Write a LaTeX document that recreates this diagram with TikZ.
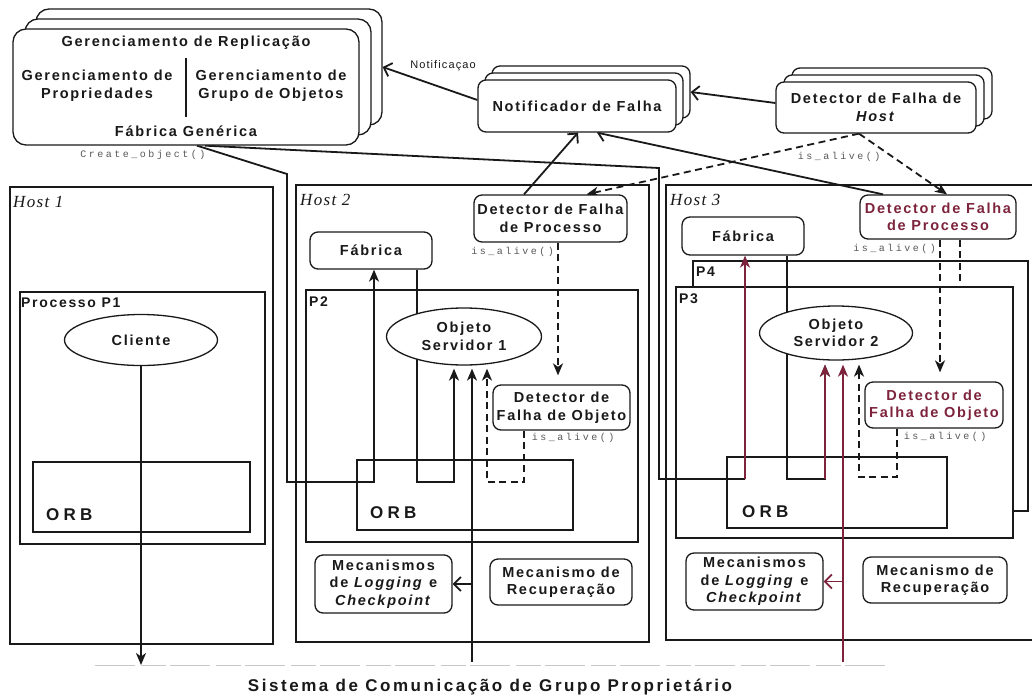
\documentclass[tikz,border=0pt]{standalone}
\usepackage{fontspec}
\setmainfont{Liberation Sans}
\newfontfamily\lblf[LetterSpace=12]{Liberation Sans}
\newfontfamily\orbf[LetterSpace=25]{Liberation Sans}
\newfontfamily\sysf[LetterSpace=15]{Liberation Sans}
\newfontfamily\hostf[LetterSpace=8]{Liberation Serif}
\newfontfamily\codef[LetterSpace=25]{Liberation Mono}
\newfontfamily\notf[LetterSpace=10]{Liberation Sans}
\usetikzlibrary{arrows.meta,shapes.geometric}
\pgfdeclarelayer{back}
\pgfsetlayers{back,main}
\definecolor{mar}{RGB}{125,35,60}
\definecolor{ink}{RGB}{25,25,25}
\begin{document}
\begin{tikzpicture}[x=1pt,y=-1pt,line join=round,
  lbl/.style={font=\lblf\bfseries\fontsize{14.5}{17.5}\selectfont, align=center, inner sep=0pt, text=ink},
  rbox/.style={lbl, draw=ink, line width=1.3pt, rounded corners=8pt, fill=white},
  ell/.style={lbl, ellipse, draw=ink, line width=1.3pt, fill=white},
  conn/.style={line width=1.8pt, draw=ink},
  dconn/.style={line width=1.8pt, draw=ink, dash pattern=on 7pt off 4.5pt},
  tipv/.style={-{Stealth[length=12pt,width=10pt,inset=3.5pt]}},
  tipb/.style={-{Straight Barb[length=7pt,width=14pt,line width=1.8pt]}},
  frame/.style={draw=ink, line width=1.3pt},
  code/.style={font=\codef\fontsize{10}{12}\selectfont, text=black!65, inner sep=0pt},
  hostlbl/.style={font=\hostf\itshape\fontsize{17}{20}\selectfont, inner sep=0pt, anchor=west, text=ink},
  plbl/.style={font=\lblf\bfseries\fontsize{14}{17}\selectfont, inner sep=0pt, anchor=west, text=ink},
  orb/.style={font=\orbf\bfseries\fontsize{17}{20}\selectfont, inner sep=0pt, anchor=west, text=ink},
]
\useasboundingbox (0,0) rectangle (1032,696);

% ---------- top stacks ----------
\node[rbox, rounded corners=13pt, minimum width=346pt, minimum height=116pt] (gr3) at (209,67) {};
\node[rbox, rounded corners=13pt, minimum width=346pt, minimum height=116pt] (gr2) at (198,77) {};
\node[rbox, rounded corners=13pt, minimum width=346pt, minimum height=116pt] (gr) at (186,87) {};
\node[lbl] (grt) at (186,43) {Gerenciamento de Replicação};
\node[lbl] (grl) at (97,86) {Gerenciamento de\\Propriedades};
\node[lbl] (grr) at (271,86) {Gerenciamento de\\Grupo de Objetos};
\node[lbl] (grf) at (186,131) {Fábrica Genérica};
\coordinate (dvt) at (186,58);
\coordinate (dvb) at (186,117);
\draw[line width=1.2pt, ink] (dvt) -- (dvb);

\node[rbox, minimum width=198pt, minimum height=52pt] (nf3) at (591,92) {};
\node[rbox, minimum width=198pt, minimum height=52pt] (nf2) at (584,99) {};
\node[rbox, minimum width=198pt, minimum height=52pt] (nf) at (577,106) {Notificador de Falha};

\node[rbox, minimum width=200pt, minimum height=51pt] (hd3) at (892,93.5) {};
\node[rbox, minimum width=200pt, minimum height=51pt] (hd2) at (884,100.5) {};
\node[rbox, minimum width=200pt, minimum height=51pt] (hd) at (876,107.5) {Detector de Falha de\\\textit{Host}};

\node[font=\notf\fontsize{11}{13}\selectfont, inner sep=0pt, text=ink] (notl) at (443,66) {Notificaçao};
\node[code] (co) at (143,155) {Create\_object()};
\node[code] (iah) at (839,157) {is\_alive()};

% ---------- host labels ----------
\node[hostlbl] (h1) at (13,202) {Host 1};
\node[hostlbl] (h2) at (300,200) {Host 2};
\node[hostlbl] (h3) at (670,200) {Host 3};

\node[plbl] (p1l) at (21,303) {Processo P1};
\node[orb] (orb1) at (46,515) {ORB};
\node[plbl] (p2l) at (309,302) {P2};
\node[orb] (orb2) at (370,513) {ORB};
\node[plbl] (p4l) at (696,272) {P4};
\node[plbl] (p3l) at (679,299) {P3};
\node[orb] (orb3) at (742,512) {ORB};

% ---------- Host 2 boxes ----------
\node[rbox, minimum width=153pt, minimum height=47pt] (dp2) at (550.5,218.5) {Detector de Falha\\de Processo};
\node[rbox, minimum width=122pt, minimum height=37pt] (fab2) at (371,250.5) {Fábrica};
\node[rbox, minimum width=137pt, minimum height=45pt] (do2) at (561.5,407.5) {Detector de\\Falha de Objeto};
\node[rbox, minimum width=137pt, minimum height=58pt] (mk2) at (383.5,584) {Mecanismos\\de \textit{Logging} e\\\textit{Checkpoint}};
\node[rbox, minimum width=142pt, minimum height=46pt] (rc2) at (561,582) {Mecanismo de\\Recuperação};
\node[code, anchor=east] (ia2) at (554,252) {is\_alive()};
\node[code] (ia2o) at (573,438) {is\_alive()};

% ---------- Host 3 boxes ----------
\node[rbox, minimum width=156pt, minimum height=44pt, text=mar] (dp3) at (938,217) {Detector de Falha\\de Processo};
\node[rbox, minimum width=122pt, minimum height=38pt] (fab3) at (743,236) {Fábrica};
\node[rbox, minimum width=138pt, minimum height=46pt, text=mar] (do3) at (934,405) {Detector de\\Falha de Objeto};
\node[rbox, minimum width=137pt, minimum height=57pt] (mk3) at (754.5,581.5) {Mecanismos\\de \textit{Logging} e\\\textit{Checkpoint}};
\node[rbox, minimum width=144pt, minimum height=46pt] (rc3) at (935,580) {Mecanismo de\\Recuperação};
\node[code, anchor=east] (ia3) at (936,249) {is\_alive()};
\node[code] (ia3o) at (945,437) {is\_alive()};

% ---------- ellipses ----------
\node[ell, minimum width=153pt, minimum height=51pt] (cli) at (141,340) {Cliente};
\node[ell, minimum width=155pt, minimum height=57pt] (os1) at (464,336.5) {Objeto\\Servidor 1};
\node[ell, minimum width=153pt, minimum height=54pt] (os2) at (836,333) {Objeto\\Servidor 2};

% ---------- bottom ----------
\node[font=\sysf\bfseries\fontsize{17}{20}\selectfont, inner sep=0pt, text=ink] (sys) at (490,687) {Sistema de Comunicação de Grupo Proprietário};

\coordinate (c1) at (141,665);
\coordinate (c2) at (472,662);
\coordinate (c3) at (843,662);
\coordinate (b3) at (745,479);
\coordinate (f2b) at (454,482);
\coordinate (f3b) at (825,479);
\coordinate (d2a) at (524,482);
\coordinate (d2b) at (487,482);
\coordinate (d3a) at (897,477);
\coordinate (d3b) at (859,477);
\coordinate (d3e) at (960,287);
\coordinate (gl) at (95,665);
\coordinate (gr0) at (890,665);

\begin{pgfonlayer}{back}
\fill[white] (0,0) rectangle (1032,696);
% frames
\draw[frame] (10,187) rectangle (273,644);
\draw[frame] (296,185) rectangle (649,642);
\draw[frame] (1032,185) -- (666,185) -- (666,640) -- (1032,640);
\draw[frame] (20,292) rectangle (265,544);
\draw[frame] (33,462) rectangle (250,532);
\draw[frame] (306,290) rectangle (638,542);
\draw[frame] (357,460) rectangle (573,530);
\draw[frame, fill=white] (693,261) rectangle (1028,511);
\draw[frame, fill=white] (676,287) rectangle (1013,538);
\draw[frame] (727,457) rectangle (947,528);
\draw[black!22, line width=0.7pt, dash pattern=on 40pt off 6pt on 25pt off 4pt] (gl) -- (gr0);

% top connectors
\draw[conn, tipb] ([yshift=6pt]nf.west) -- (gr3.east);
\draw[conn, tipb] ([yshift=4.5pt]hd.west) -- (nf3.east);
\draw[conn, tipb] ([xshift=-26.5pt]dp2.north) -- ([xshift=1pt]nf.south);
\draw[conn, tipb] ([xshift=-55pt]dp3.north) -- ([xshift=20pt]nf.south);
\draw[dconn, tipv] ([xshift=-17pt]hd.south) -- ([xshift=36pt]dp2.north);
\draw[dconn, tipv] ([xshift=-17pt]hd.south) -- ([xshift=9pt]dp3.north);

% create_object lines
\draw[conn, tipv] ([xshift=11pt]gr.south) -- (287,174) -- (287,482) -- (374,482) -- ([xshift=3pt]fab2.south);
\draw[conn] ([xshift=19pt]gr.south) -- (659,168) -- (659,479) -- (b3);
\draw[conn, draw=mar, tipv] (b3) -- ([xshift=2pt]fab3.south);

% Host 1
\draw[conn, tipv] (cli.south) -- (c1);

% Host 2
\draw[conn, tipv, shorten >=3pt] ([xshift=46pt]fab2.south) -- (417,482) -- (f2b) -- (f2b |- os1.south);
\draw[conn, tipv, shorten >=3pt] (c2) -- (c2 |- os1.south);
\draw[conn, tipb] (c2 |- mk2.east) -- (mk2.east);
\draw[dconn, tipv, shorten >=3pt] (do2.south -| d2a) -- (d2a) -- (d2b) -- (d2b |- os1.south);
\draw[dconn, tipv, shorten >=9pt] ([xshift=7.5pt]dp2.south) -- ([xshift=-3.5pt]do2.north);

% Host 3
\draw[conn, tipv, shorten >=4pt] ([xshift=44pt]fab3.south) -- (787,479) -- (f3b) -- (f3b |- os2.south);
\draw[conn, draw=mar, tipv, shorten >=4pt] (f3b) -- (f3b |- os2.south);
\draw[conn, draw=mar, tipv, shorten >=4pt] (c3) -- (c3 |- os2.south);
\draw[conn, draw=mar, tipb] (c3 |- mk3.east) -- (mk3.east);
\draw[dconn, tipv, shorten >=4pt] (do3.south -| d3a) -- (d3a) -- (d3b) -- (d3b |- os2.south);
\draw[dconn, tipv, shorten >=9pt] ([xshift=2pt]dp3.south) -- ([xshift=6pt]do3.north);
\draw[dconn] ([xshift=22pt]dp3.south) -- (d3e);
\end{pgfonlayer}
\end{tikzpicture}
\end{document}
